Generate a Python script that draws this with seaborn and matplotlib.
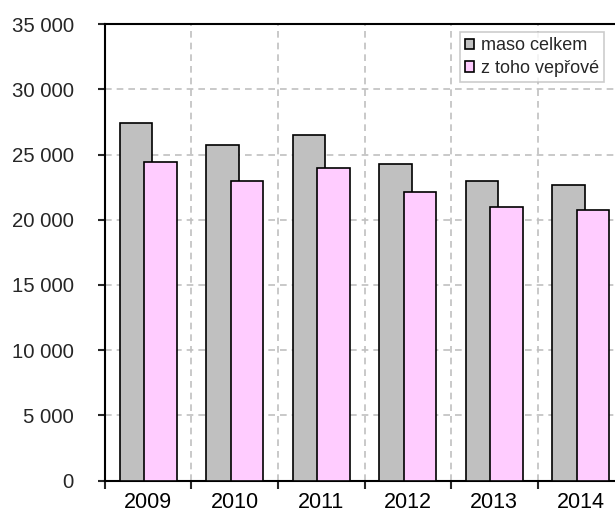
import numpy as np
import pandas as pd
import seaborn as sns
from matplotlib import pyplot as plt
from matplotlib.ticker import FuncFormatter, MultipleLocator
from matplotlib.patches import Patch

# data
years = [2009, 2010, 2011, 2012, 2013, 2014]
maso_celkem = [27420, 25760, 26530, 24240, 22990, 22680]
z_toho_veprove = [24390, 22990, 23930, 22100, 21000, 20720]
labels = ["maso celkem", "z toho vepřové"]

sns.set_style("white")
plt.rcParams['font.family'] = ['Liberation Sans', 'DejaVu Sans']

df = pd.DataFrame({"rok": years, "celkem": maso_celkem, "veprove": z_toho_veprove})

fig = plt.figure(figsize=(6.15, 5.16), dpi=100)
ax = fig.add_axes([0.1707, 0.0684, 0.844, 0.885])

shift = 0.14
sns.barplot(x=df["rok"] - shift, y=df["celkem"], native_scale=True, width=0.375,
            color="#C0C0C0", saturation=1, edgecolor="black", linewidth=1.2, ax=ax, zorder=3)
sns.barplot(x=df["rok"] + shift, y=df["veprove"], native_scale=True, width=0.375,
            color="#FFCCFF", saturation=1, edgecolor="black", linewidth=1.2, ax=ax, zorder=4)

ax.set_xlim(years[0] - 0.5, years[-1] + 0.5)
ax.set_ylim(0, 35000)
ax.yaxis.set_major_locator(MultipleLocator(5000))
ax.yaxis.set_major_formatter(FuncFormatter(lambda v, p: f"{int(v):,}".replace(",", " ")))
ax.set_xticks(years)
ax.set_xticklabels([str(y) for y in years])
ax.set_xticks([y + 0.5 for y in years[:-1]] + [years[0] - 0.5], minor=True)

ax.grid(axis="y", which="major", color="#C0C0C0", linestyle=(0, (4, 3)), linewidth=1.2, zorder=0)
ax.grid(axis="x", which="minor", color="#C0C0C0", linestyle=(0, (4, 3)), linewidth=1.2, zorder=0)
ax.set_axisbelow(True)

ax.tick_params(axis="x", which="major", length=0, labelsize=15.5, pad=7.8, colors="black")
ax.tick_params(axis="x", which="minor", length=6, width=1.5, direction="out", bottom=True)
ax.tick_params(axis="y", length=5, width=1.5, direction="out", left=True, labelsize=14.7, pad=17.5)

for s in ["left", "bottom", "top", "right"]:
    ax.spines[s].set_visible(True)
    ax.spines[s].set_color("black")
    ax.spines[s].set_linewidth(1.5)

ax.set_xlabel("")
ax.set_ylabel("")

handles = [Patch(facecolor="#C0C0C0", edgecolor="black", linewidth=1.2),
           Patch(facecolor="#FFCCFF", edgecolor="black", linewidth=1.2)]
leg = fig.legend(handles, labels, loc="upper left", bbox_to_anchor=(0.748, 0.938),
                 fontsize=13, frameon=True, fancybox=False, handlelength=0.5, handleheight=0.5,
                 handletextpad=0.35, borderpad=0.3, labelspacing=0.3, borderaxespad=0)
leg.get_frame().set_edgecolor("#C0C0C0")
leg.get_frame().set_linewidth(1.2)

fig.savefig("out.png", dpi=100)
